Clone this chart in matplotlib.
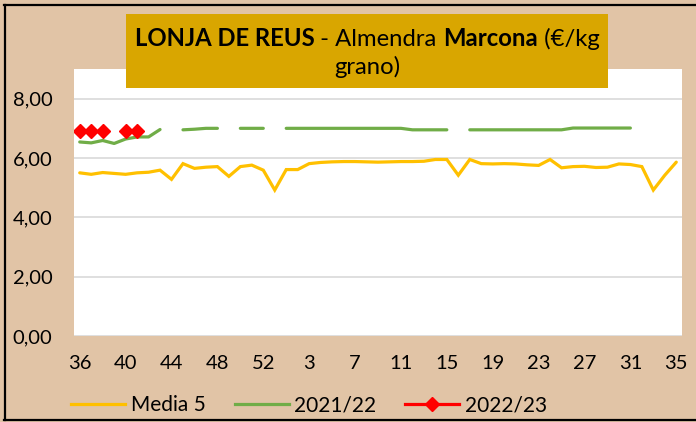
import matplotlib
matplotlib.use("Agg")
import matplotlib.pyplot as plt
import numpy as np
import pandas as pd
from matplotlib.patches import Rectangle
from matplotlib.lines import Line2D
from matplotlib.ticker import FuncFormatter

nan = np.nan
FONT = "Lato"
plt.rcParams["font.family"] = [FONT, "DejaVu Sans"]

C_BG = "#E1C4A6"
C_TITLE = "#D9A600"
C_M5 = "#FFC000"
C_2122 = "#70AD47"
C_2223 = "#FF0000"
C_GRID = "#D9D9D9"

# weeks of the campaign: 36..53, then 1..35
weeks = list(range(36, 54)) + list(range(1, 36))

media5 = [5.50, 5.45, 5.51, 5.48, 5.45, 5.50, 5.52, 5.59, 5.28, 5.81,
          5.65, 5.69, 5.71, 5.38, 5.71, 5.76, 5.59, 4.92, 5.61, 5.61,
          5.81, 5.85, 5.87, 5.88, 5.88, 5.87, 5.86, 5.87, 5.88, 5.88,
          5.89, 5.95, 5.95, 5.42, 5.95, 5.81, 5.80, 5.81, 5.80, 5.77,
          5.75, 5.95, 5.67, 5.71, 5.72, 5.68, 5.69, 5.80, 5.78, 5.71,
          4.92, 5.42, 5.86]

c2122 = [6.54, 6.51, 6.59, 6.49, 6.64, 6.71, 6.71, 6.96, nan, 6.95,
         6.97, 7.00, 7.00, nan, 7.00, 7.00, 7.00, nan, 7.00, 7.00,
         7.00, 7.00, 7.00, 7.00, 7.00, 7.00, 7.00, 7.00, 7.00, 6.95,
         6.95, 6.95, 6.95, nan, 6.95, 6.95, 6.95, 6.95, 6.95, 6.95,
         6.95, 6.95, 6.95, 7.01, 7.01, 7.01, 7.01, 7.01, 7.01, nan,
         nan, nan, nan]

c2223_weeks = [36, 37, 38, 40, 41]
c2223_vals = [6.90, 6.90, 6.90, 6.90, 6.90]

c2223 = pd.Series(c2223_vals, index=c2223_weeks).reindex(weeks[:6]).reindex(weeks)

W, H = 696, 422
fig = plt.figure(figsize=(W / 100, H / 100), dpi=100)
fig.patch.set_facecolor(C_BG)

# outer border (top, left, bottom)
fig.add_artist(Line2D([4 / W, 1], [1 - 4.5 / H, 1 - 4.5 / H], color="black", lw=1.6,
                      transform=fig.transFigure))
fig.add_artist(Line2D([4.5 / W, 4.5 / W], [1 - 4.5 / H, 2.5 / H], color="black", lw=1.6,
                      transform=fig.transFigure))
fig.add_artist(Line2D([4 / W, 1], [2.5 / H, 2.5 / H], color="black", lw=1.6,
                      transform=fig.transFigure))

L, R, T, B = 74, 682, 69, 336
ax = fig.add_axes([L / W, 1 - B / H, (R - L) / W, (B - T) / H])
ax.set_facecolor("white")

x = np.arange(len(weeks))
ax.plot(x, media5, color=C_M5, lw=2.3, solid_capstyle="round",
        solid_joinstyle="miter", zorder=3)
ax.plot(x, c2122, color=C_2122, lw=2.3, solid_capstyle="round", zorder=3)
ax.plot(x, c2223.values, color=C_2223, lw=2.3, marker="D", ms=6.8,
        zorder=4)

ax.set_xlim(-0.5, len(weeks) - 0.5)
ax.set_ylim(0, 9)
ax.set_yticks([0, 2, 4, 6, 8])
ax.yaxis.set_major_formatter(FuncFormatter(lambda v, _: f"{v:.2f}".replace(".", ",")))
ax.set_xticks(x[::4])
ax.set_xticklabels([str(w) for w in weeks[::4]])
ax.grid(axis="y", color=C_GRID, lw=1.2)
ax.set_axisbelow(True)
for s in ax.spines.values():
    s.set_visible(False)
ax.tick_params(length=0, labelsize=14.5)
ax.tick_params(axis="y", pad=15.5)
ax.tick_params(axis="x", pad=13.5)

# title box
fig.add_artist(Rectangle((126 / W, 1 - 88 / H), (608 - 126) / W, (88 - 14) / H,
                         transform=fig.transFigure, facecolor=C_TITLE,
                         edgecolor="none", zorder=5))

renderer = fig.canvas.get_renderer()
pieces = [("LONJA DE REUS", "bold"), (" - Almendra ", "normal"),
          ("Marcona", "bold"), (" (\u20ac/kg", "normal")]
TFS = 17.2
widths = []
for txt, wt in pieces:
    t = fig.text(0, 0, txt, fontsize=TFS, fontweight=wt)
    widths.append(t.get_window_extent(renderer).width)
    t.remove()
x0 = 367 - sum(widths) / 2
y1 = 1 - 39 / H
for (txt, wt), w in zip(pieces, widths):
    fig.text(x0 / W, y1, txt, fontsize=TFS, fontweight=wt, va="center",
             ha="left", zorder=6)
    x0 += w
fig.text(367 / W, 1 - 67 / H, "grano)", fontsize=TFS, va="center",
         ha="center", zorder=6)

handles = [Line2D([], [], color=C_M5, lw=2.3),
           Line2D([], [], color=C_2122, lw=2.3),
           Line2D([], [], color=C_2223, lw=2.3, marker="D", ms=6.8)]
fig.legend(handles, ["Media 5", "2021/22", "2022/23"], loc="center",
           bbox_to_anchor=(309 / W, 1 - 405 / H), ncol=3, frameon=False,
           fontsize=15, handlelength=2.6, handletextpad=0.25,
           columnspacing=1.4, borderpad=0)

fig.savefig("out.png", dpi=100, facecolor=C_BG)
